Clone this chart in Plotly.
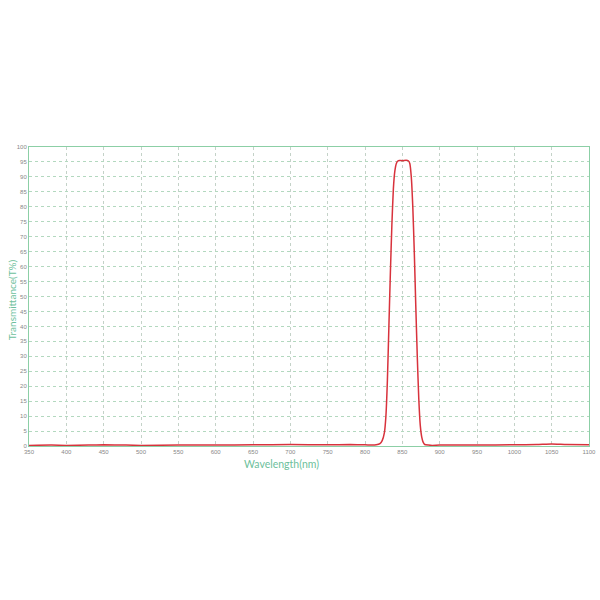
import plotly.graph_objects as go

wavelength = [350, 380, 400, 430, 450, 480, 500, 550, 600, 650, 700, 750, 780, 800, 810, 815, 820, 823, 826, 828,
              830, 832, 834, 836, 838, 840, 842, 844, 846, 850, 855, 858, 860, 862, 864, 866, 868, 870,
              872, 874, 876, 878, 880, 885, 890, 900, 950, 1000, 1030, 1050, 1070, 1100]
transmittance = [0.2, 0.3, 0.2, 0.3, 0.4, 0.3, 0.2, 0.3, 0.3, 0.4, 0.5, 0.4, 0.5, 0.4, 0.3, 0.4, 0.8, 1.8, 4.5, 10,
                 22, 40, 58, 74, 86, 92, 94.5, 95.3, 95.5, 95.4, 95.6, 95.4, 94.5, 90, 80, 65, 47, 30,
                 16, 7, 3, 1.2, 0.5, 0.3, 0.2, 0.3, 0.3, 0.4, 0.5, 0.7, 0.5, 0.4]

x_ticks = list(range(350, 1101, 50))
y_ticks = list(range(0, 101, 5))

fig = go.Figure()
fig.add_trace(go.Scatter(x=wavelength, y=transmittance, mode="lines",
                         line=dict(color="#d8323c", width=1.5, shape="spline", smoothing=0.5),
                         showlegend=False))

fig.update_layout(
    width=600, height=600,
    margin=dict(l=29, r=11, t=147, b=154),
    paper_bgcolor="white", plot_bgcolor="white",
    font=dict(family="Liberation Sans", color="#888"),
    xaxis=dict(range=[350, 1100], tickvals=x_ticks, ticktext=[str(v) for v in x_ticks],
               showgrid=True, gridcolor="#c4d2c8", griddash="dot", gridwidth=1,
               showline=True, linecolor="#8ccfa6", linewidth=1, mirror=True, automargin=False,
               zeroline=False, ticks="", tickfont=dict(size=6, color="#888")),
    yaxis=dict(range=[0, 100], tickvals=y_ticks, ticktext=[str(v) for v in y_ticks],
               showgrid=True, gridcolor="#b3d8bf", griddash="dot", gridwidth=1,
               showline=True, linecolor="#8ccfa6", linewidth=1, mirror=True, automargin=False,
               zeroline=False, ticks="", tickfont=dict(size=6, color="#888")),
    annotations=[
        dict(text="Wavelength(nm)", x=0.45, y=-0.035, xref="paper", yref="paper",
             xanchor="center", yanchor="top", showarrow=False,
             font=dict(size=10.5, color="#6dbf9c", family="Lato")),
        dict(text="Transmittance(T%)", x=-0.029, y=0.49, xref="paper", yref="paper",
             xanchor="center", yanchor="middle", showarrow=False, textangle=-90,
             font=dict(size=10, color="#6dbf9c", family="Lato")),
    ],
)

fig.write_html("out.html", config={"displayModeBar": False},
               post_script="document.body.style.margin='0';document.body.style.overflow='hidden';")
